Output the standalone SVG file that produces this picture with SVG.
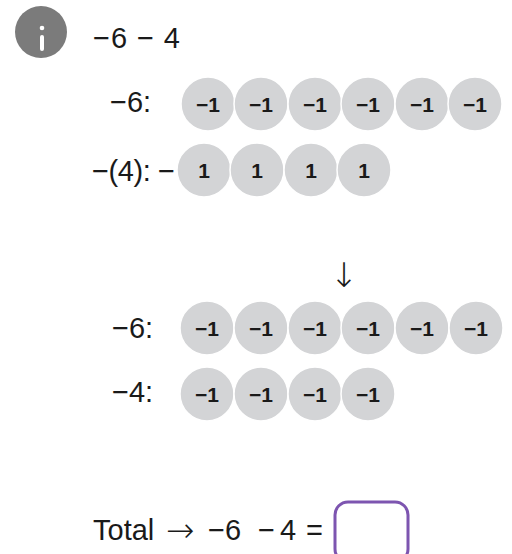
<svg xmlns="http://www.w3.org/2000/svg" width="512" height="554" viewBox="0 0 512 554">
<style>
.t{font-family:"Liberation Sans",Arial,sans-serif;font-size:29px;fill:#1a1a1a}
.a{font-family:"DejaVu Sans",sans-serif;font-weight:200;font-size:34px;fill:#1a1a1a}
.c{fill:#d3d4d6;stroke:#ffffff;stroke-width:1.5}
.n{font-family:"Liberation Sans",Arial,sans-serif;font-size:21px;font-weight:bold;fill:#1a1a1a;text-anchor:middle}
</style>
<rect width="512" height="554" fill="#ffffff"/>
<g id="info">
<circle cx="41" cy="32" r="26" fill="#7b7b7b"/>
<circle cx="42" cy="28" r="2.3" fill="#ffffff"/>
<rect x="40" y="35" width="4" height="16" rx="2" fill="#ffffff"/>
</g>
<g id="title"><text class="t" x="93" y="48" textLength="87" lengthAdjust="spacing">−6 − 4</text></g>
<g id="row1">
<text class="t" x="110" y="112">−6:</text>
<circle class="c" cx="208" cy="104" r="27"/><text class="n" x="208" y="112">−1</text>
<circle class="c" cx="261" cy="104" r="27"/><text class="n" x="261" y="112">−1</text>
<circle class="c" cx="315" cy="104" r="27"/><text class="n" x="315" y="112">−1</text>
<circle class="c" cx="368" cy="104" r="27"/><text class="n" x="368" y="112">−1</text>
<circle class="c" cx="422" cy="104" r="27"/><text class="n" x="422" y="112">−1</text>
<circle class="c" cx="475" cy="104" r="27"/><text class="n" x="475" y="112">−1</text>
</g>
<g id="row2">
<text class="t" x="92" y="181" textLength="83" lengthAdjust="spacing">−(4): −</text>
<circle class="c" cx="204" cy="170" r="27"/><text class="n" x="204" y="178">1</text>
<circle class="c" cx="257" cy="170" r="27"/><text class="n" x="257" y="178">1</text>
<circle class="c" cx="311" cy="170" r="27"/><text class="n" x="311" y="178">1</text>
<circle class="c" cx="364" cy="170" r="27"/><text class="n" x="364" y="178">1</text>
</g>
<g id="connectors">
<text class="a" x="344" y="287" text-anchor="middle">↓</text>
</g>
<g id="row3">
<text class="t" x="112" y="338">−6:</text>
<circle class="c" cx="207" cy="328" r="27"/><text class="n" x="207" y="336">−1</text>
<circle class="c" cx="261" cy="328" r="27"/><text class="n" x="261" y="336">−1</text>
<circle class="c" cx="315" cy="328" r="27"/><text class="n" x="315" y="336">−1</text>
<circle class="c" cx="368" cy="328" r="27"/><text class="n" x="368" y="336">−1</text>
<circle class="c" cx="422" cy="328" r="27"/><text class="n" x="422" y="336">−1</text>
<circle class="c" cx="476" cy="328" r="27"/><text class="n" x="476" y="336">−1</text>
</g>
<g id="row4">
<text class="t" x="112" y="402">−4:</text>
<circle class="c" cx="207" cy="394" r="27"/><text class="n" x="207" y="402">−1</text>
<circle class="c" cx="261" cy="394" r="27"/><text class="n" x="261" y="402">−1</text>
<circle class="c" cx="315" cy="394" r="27"/><text class="n" x="315" y="402">−1</text>
<circle class="c" cx="368" cy="394" r="27"/><text class="n" x="368" y="402">−1</text>
</g>
<g id="total">
<text class="t" y="540"><tspan x="93">Total</tspan><tspan x="208">−6</tspan><tspan x="258">−</tspan><tspan x="280">4</tspan><tspan x="306">=</tspan></text>
<text class="a" x="166" y="542">→</text>
<rect x="335" y="502" width="73" height="60" rx="13" fill="none" stroke="#7d55b0" stroke-width="3"/>
</g>
</svg>
